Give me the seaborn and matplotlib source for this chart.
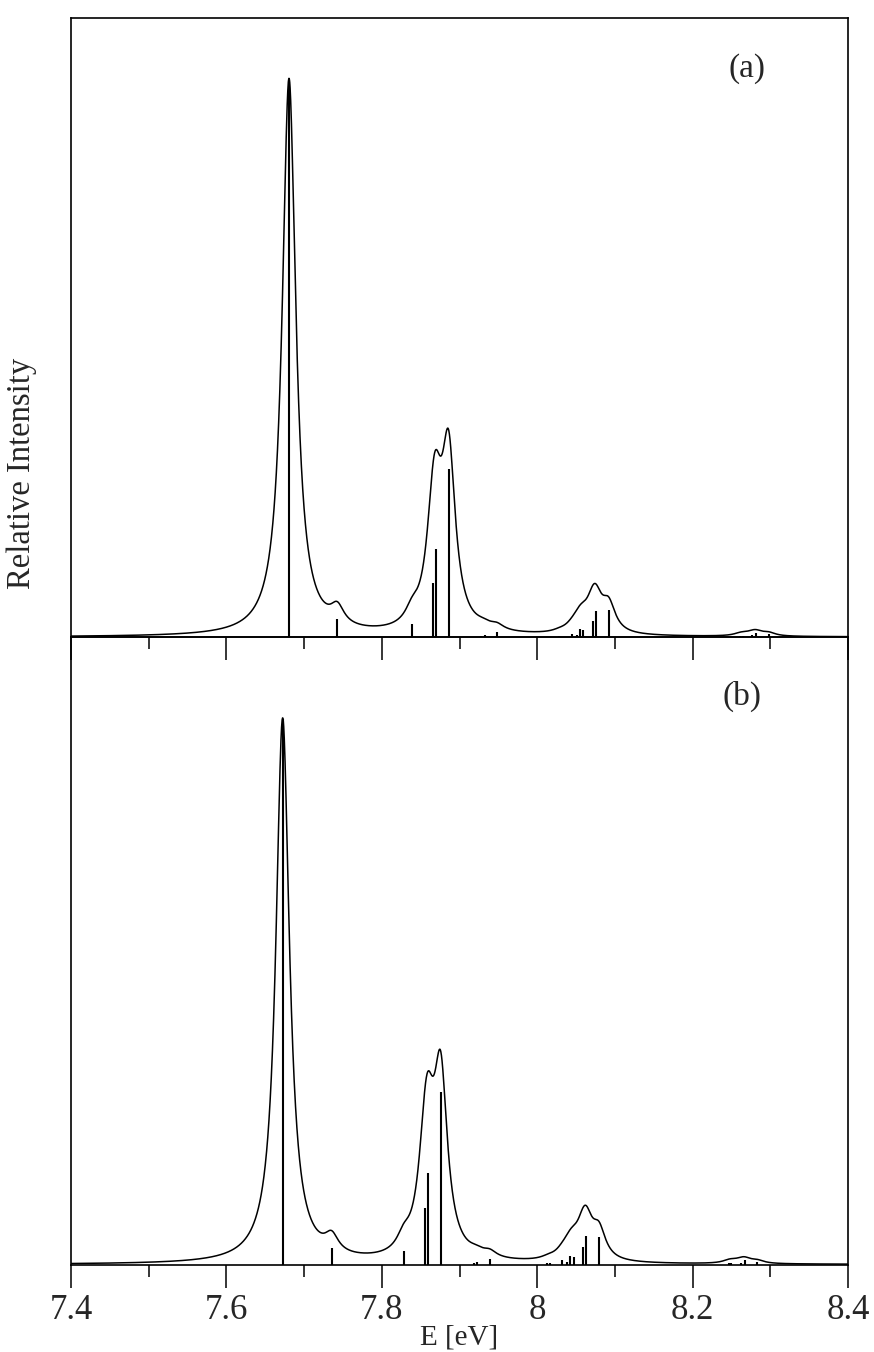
import numpy as np
import pandas as pd
import matplotlib
matplotlib.use("Agg")
import matplotlib.pyplot as plt
import seaborn as sns

# stick spectra (energies in eV, intensities relative to the main line = 100)
energy_a = [7.6806, 7.7428, 7.8390, 7.8655, 7.8693, 7.8860, 7.9277, 7.9328, 7.9483,
            8.0285, 8.0448, 8.0512, 8.0547, 8.0585, 8.0714, 8.0753, 8.0920,
            8.2610, 8.2645, 8.2769, 8.2816, 8.2980]
inten_a = [100.0, 3.2, 2.3, 9.7, 15.8, 30.2, 0.25, 0.4, 0.9,
           0.25, 0.6, 0.35, 1.45, 1.3, 2.8, 4.7, 4.8,
           0.25, 0.25, 0.3, 0.7, 0.55]

energy_b = [7.6724, 7.7355, 7.8282, 7.8552, 7.8595, 7.8758, 7.9190, 7.9230, 7.9390,
            8.0120, 8.0165, 8.0320, 8.0387, 8.0426, 8.0470, 8.0590, 8.0632, 8.0795,
            8.2465, 8.2500, 8.2627, 8.2670, 8.2833]
inten_b = [100.0, 3.1, 2.5, 10.3, 16.7, 31.6, 0.25, 0.5, 1.05,
           0.2, 0.2, 0.8, 0.5, 1.65, 1.4, 3.25, 5.3, 5.1,
           0.3, 0.3, 0.3, 0.75, 0.5]

panel_labels = ["(a)", "(b)"]
xtick_vals = [7.4, 7.6, 7.8, 8.0, 8.2, 8.4]
xtick_text = ["7.4", "7.6", "7.8", "8", "8.2", "8.4"]
xminor_vals = [7.5, 7.7, 7.9, 8.1, 8.3]

HWHM = 0.0105  # Lorentzian half width used for the envelope (eV)


def envelope(energies, intens, grid):
    e = np.asarray(energies)[:, None]
    h = np.asarray(intens)[:, None]
    return (h * HWHM**2 / (HWHM**2 + (grid[None, :] - e) ** 2)).sum(axis=0)


sns.set_theme(style="ticks")
plt.rcParams["font.family"] = ["Liberation Serif", "DejaVu Serif"]
plt.rcParams["axes.linewidth"] = 1.2

fig = plt.figure(figsize=(8.74, 13.52), dpi=100)
ax_a = fig.add_axes([0.0812, 0.5288, 0.8891, 0.4579])
ax_b = fig.add_axes([0.0812, 0.0647, 0.8891, 0.4641])
# top panel drawn last so its ticks show over the lower panel
ax_a.set_zorder(2)
ax_a.patch.set_visible(False)

grid = np.linspace(7.4, 8.4, 4001)
panels = [(ax_a, energy_a, inten_a, 111.1), (ax_b, energy_b, inten_b, 115.1)]
label_pos = [(0.870, 0.919), (0.864, 0.906)]

for i, (ax, en, it, ytop) in enumerate(panels):
    df = pd.DataFrame({"E": grid, "I": envelope(en, it, grid)})
    sns.lineplot(data=df, x="E", y="I", color="black", linewidth=1.1, ax=ax)
    ax.vlines(en, 0, it, color="black", linewidth=1.5)
    ax.set_xlim(7.4, 8.4)
    ax.set_ylim(0, ytop)
    ax.set_yticks([])
    ax.set_xticks(xtick_vals)
    ax.set_xticks(xminor_vals, minor=True)
    ax.tick_params(axis="x", which="major", direction="out", length=16.5, width=1.1,
                   labelsize=25, pad=5, color="black")
    ax.tick_params(axis="x", which="minor", direction="out", length=8.3, width=1.1,
                   color="black")
    ax.set_ylabel("")
    ax.set_xlabel("")
    for sp in ax.spines.values():
        sp.set_visible(True)
        sp.set_color("black")
    ax.text(label_pos[i][0], label_pos[i][1], panel_labels[i], transform=ax.transAxes,
            fontsize=24, ha="center", va="center")

ax_a.tick_params(axis="x", labelbottom=False)
ax_b.set_xticklabels(xtick_text)
ax_b.set_xlabel("E [eV]", fontsize=21, labelpad=-2)

fig.text(0.025, 0.650, "Relative Intensity", rotation=90, fontsize=23.5,
         ha="center", va="center")

fig.savefig("out.png", dpi=100)
plt.close(fig)
